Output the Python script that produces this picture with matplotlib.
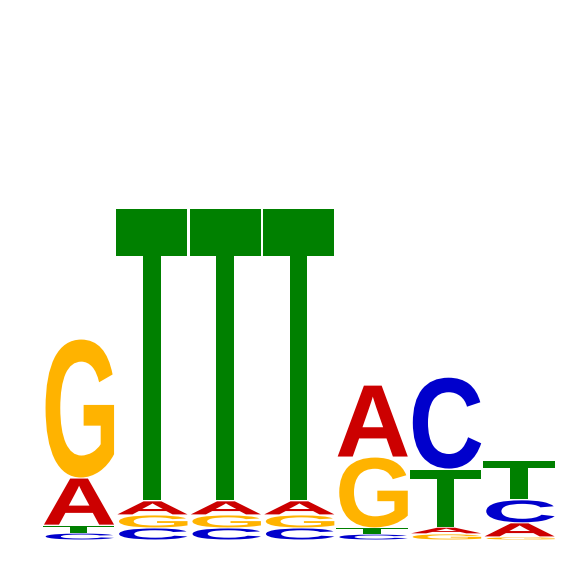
import matplotlib
matplotlib.use('Agg')
import matplotlib.pyplot as plt
import numpy as np
from matplotlib.textpath import TextPath
from matplotlib.patches import PathPatch
from matplotlib.font_manager import FontProperties
from matplotlib.transforms import Affine2D

# information content per base (bits)
bases = ['A', 'C', 'G', 'T']
heights_A = [0.184, 0.055, 0.055, 0.055, 0.281, 0.026, 0.055]
heights_C = [0.027, 0.047, 0.047, 0.047, 0.023, 0.359, 0.090]
heights_G = [0.543, 0.051, 0.051, 0.051, 0.277, 0.024, 0.012]
heights_T = [0.031, 1.141, 1.141, 1.141, 0.024, 0.227, 0.152]

colors = {'A': '#CC0000', 'C': '#0000CC', 'G': '#FFB300', 'T': '#008000'}

fp = FontProperties(family='Liberation Sans', weight='bold')


def draw_letter(ax, ch, x0, y0, w, h, color):
    tp = TextPath((0, 0), ch, size=1, prop=fp)
    v = tp.vertices
    xmin, ymin = v.min(axis=0)
    xmax, ymax = v.max(axis=0)
    tr = (Affine2D().translate(-xmin, -ymin)
          .scale(w / (xmax - xmin), h / (ymax - ymin))
          .translate(x0, y0))
    ax.add_patch(PathPatch(tr.transform_path(tp), facecolor=color,
                           edgecolor='none'))


fig = plt.figure(figsize=(5.66, 5.66), dpi=100)
ax = fig.add_axes([41 / 566, 26 / 566, 514 / 566, 512 / 566])

mat = np.array([heights_A, heights_C, heights_G, heights_T]).T
width = 0.99
for i, row in enumerate(mat):
    pos = i + 1
    y = 0.0
    for j in np.argsort(row):
        h = row[j]
        ch = bases[j]
        draw_letter(ax, ch, pos - width / 2, y + 0.002, width,
                    max(h - 0.004, 0.001), colors[ch])
        y += h

ax.set_xlim(0.5, 7.5)
ax.set_ylim(0, 2)
ax.axis('off')

fig.savefig('out.png', dpi=100)
